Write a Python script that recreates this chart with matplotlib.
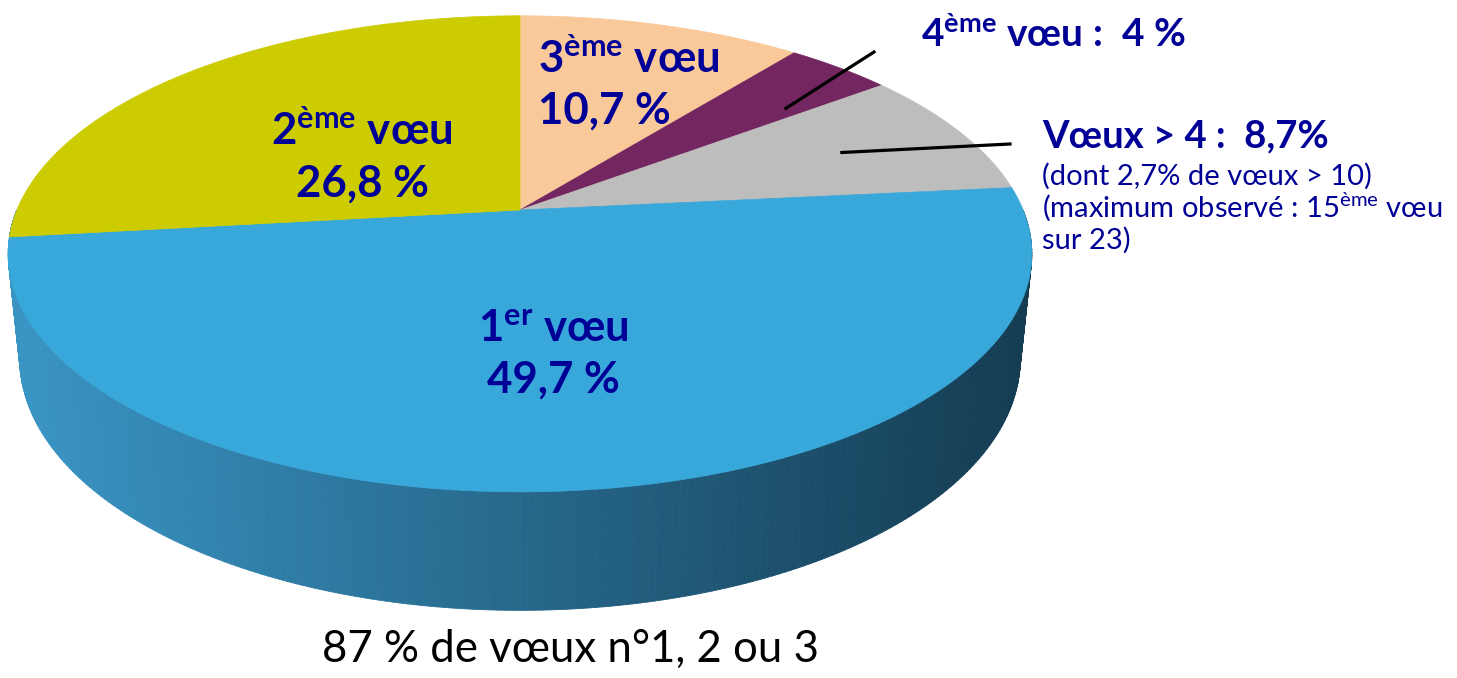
import numpy as np
import matplotlib
matplotlib.use("Agg")
import matplotlib.pyplot as plt
from matplotlib.collections import PolyCollection
from matplotlib.colors import to_rgb

plt.rcParams["font.family"] = ["Lato", "DejaVu Sans"]
plt.rcParams["mathtext.fontset"] = "custom"
plt.rcParams["mathtext.rm"] = "Lato"
plt.rcParams["mathtext.bf"] = "Lato:bold"
plt.rcParams["mathtext.it"] = "Lato:italic"

# data, in clockwise order starting at 12 o'clock
slices = ["3ème vœu", "4ème vœu", "Vœux > 4", "1er vœu", "2ème vœu"]
shares = [10.7, 4.0, 8.7, 49.7, 26.8]
colors = ["#F9C99A", "#732660", "#BDBDBD", "#38A7DA", "#CCCC00"]

# 3D pie geometry (pixel space)
cx, cy = 520, 210
f = 2430
elev = np.radians(27.2)
dist = 4.83
h = 0.236
se, ce = np.sin(elev), np.cos(elev)


def project(X, Y, Z):
    yc = Y * se + Z * ce
    zc = dist + Y * ce - Z * se
    return cx + f * X / zc, cy - f * yc / zc


fig = plt.figure(figsize=(14.57, 6.78), dpi=100)
ax = fig.add_axes([0, 0, 1, 1])
ax.set_xlim(0, 1457)
ax.set_ylim(678, 0)
ax.axis("off")

fracs = np.array(shares) / np.sum(shares)
bounds = 90 - 360 * np.concatenate([[0], np.cumsum(fracs)])

# side wall of the front slice (only 1er vœu faces the viewer)
side_light = np.array(to_rgb("#3994C4"))
side_dark = np.array(to_rgb("#143C52"))
quads, qcols, depth = [], [], []
for i in range(len(slices)):
    t0, t1 = bounds[i], bounds[i + 1]
    lo, hi = max(t1, -180), min(t0, 0)
    if lo >= hi:
        continue
    th = np.radians(np.linspace(hi, lo, 240))
    for a, b in zip(th[:-1], th[1:]):
        tx1, ty1 = project(np.cos(a), np.sin(a), 0)
        tx2, ty2 = project(np.cos(b), np.sin(b), 0)
        bx1, by1 = project(np.cos(a), np.sin(a), -h)
        bx2, by2 = project(np.cos(b), np.sin(b), -h)
        quads.append([(tx1, ty1), (tx2, ty2), (bx2, by2), (bx1, by1)])
        k = np.clip(((tx1 + tx2) / 2 - 20) / 1000, 0, 1)
        qcols.append(side_light * (1 - k) + side_dark * k)
        depth.append(np.sin((a + b) / 2))
order = np.argsort(depth)[::-1]
quads = [quads[j] for j in order]
qcols = [qcols[j] for j in order]
ax.add_collection(PolyCollection(quads, facecolors=qcols, edgecolors=qcols,
                                 linewidths=0.6, zorder=1))

# top face
apex = project(0, 0, 0)
for i in range(len(slices)):
    th = np.radians(np.linspace(bounds[i], bounds[i + 1], 200))
    px, py = project(np.cos(th), np.sin(th), np.zeros_like(th))
    poly = np.vstack([[apex], np.column_stack([px, py]), [apex]])
    ax.fill(poly[:, 0], poly[:, 1], color=colors[i], lw=0.5, ec=colors[i], zorder=2)

navy = "#000096"
big = 31.5

# labels on the pie
ax.text(362, 145, r"2$^{\mathbf{ème}}$ vœu", fontsize=big, fontweight="bold",
        color=navy, ha="center", va="baseline", zorder=5)
ax.text(362, 197, "26,8 %", fontsize=big, fontweight="bold",
        color=navy, ha="center", va="baseline", zorder=5)
ax.text(538, 73, r"3$^{\mathbf{ème}}$ vœu", fontsize=big, fontweight="bold",
        color=navy, ha="left", va="baseline", zorder=5)
ax.text(538, 124, "10,7 %", fontsize=big, fontweight="bold",
        color=navy, ha="left", va="baseline", zorder=5)
ax.text(553, 342, r"1$^{\mathbf{er}}$ vœu", fontsize=big, fontweight="bold",
        color=navy, ha="center", va="baseline", zorder=5)
ax.text(553, 393, "49,7 %", fontsize=big, fontweight="bold",
        color=navy, ha="center", va="baseline", zorder=5)

# outside labels with leaders
mid4 = np.radians(bounds[2] + 0.2 * (bounds[1] - bounds[2]))
sx, sy = project(0.75 * np.cos(mid4), 0.75 * np.sin(mid4), 0)
ax.plot([sx, 874], [sy, 52], color="black", lw=2.3, zorder=4)
ax.text(921, 47, r"4$^{\mathbf{ème}}$ vœu :  4 %", fontsize=28, fontweight="bold",
        color=navy, ha="left", va="baseline", zorder=5)

mid5 = np.radians((bounds[2] + bounds[3]) / 2)
sx, sy = project(0.72 * np.cos(mid5), 0.72 * np.sin(mid5), 0)
ax.plot([sx, 1010], [sy, 144], color="black", lw=2.3, zorder=4)
ax.text(1042, 147, "Vœux > 4 :  8,7%", fontsize=27.5, fontweight="bold",
        color=navy, ha="left", va="baseline", zorder=5)
ax.text(1042, 185, "(dont 2,7% de vœux > 10)", fontsize=21,
        color=navy, ha="left", va="baseline", zorder=5)
ax.text(1042, 217, r"(maximum observé : 15$^{\mathrm{ème}}$ vœu", fontsize=21,
        color=navy, ha="left", va="baseline", zorder=5)
ax.text(1042, 249, "sur 23)", fontsize=21,
        color=navy, ha="left", va="baseline", zorder=5)

ax.text(571, 662, "87 % de vœux n°1, 2 ou 3", fontsize=31.5,
        color="black", ha="center", va="baseline", zorder=5)

fig.savefig("out.png", dpi=100, facecolor="white")
